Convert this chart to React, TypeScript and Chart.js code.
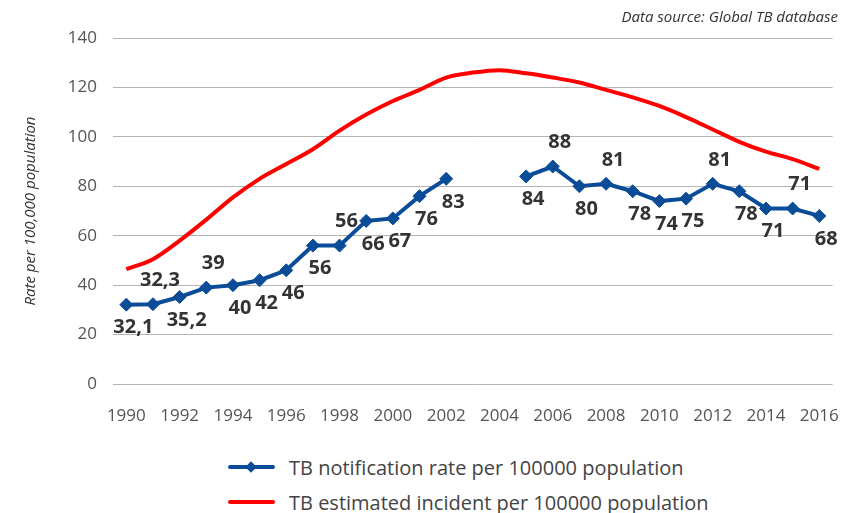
import { useEffect, useRef } from "react";
import { Chart, registerables } from "chart.js";

Chart.register(...registerables);

const years = [
  "1990", "1991", "1992", "1993", "1994", "1995", "1996", "1997", "1998", "1999",
  "2000", "2001", "2002", "2003", "2004", "2005", "2006", "2007", "2008", "2009",
  "2010", "2011", "2012", "2013", "2014", "2015", "2016",
];

const notificationRate: (number | null)[] = [
  32.1, 32.3, 35.2, 39, 40, 42, 46, 56, 56, 66, 67, 76, 83, null, null,
  84, 88, 80, 81, 78, 74, 75, 81, 78, 71, 71, 68,
];

const estimatedIncidence = [
  46.5, 50.5, 58, 66.5, 75.5, 83, 89, 95, 102.5, 109, 114.5, 119, 124, 126, 127,
  125.7, 124, 122, 119, 116, 112.5, 108, 103, 98, 94, 91, 87,
];

const yTicks = [0, 20, 40, 60, 80, 100, 120, 140];

const labelSide = [
  "below", "above", "below", "above", "below", "below", "below", "below", "above", "below",
  "below", "below", "below", "", "", "below", "above", "below", "above", "below",
  "below", "below", "above", "below", "below", "above", "below",
];

const FONT = "'Open Sans', sans-serif";
const BLUE = "#0a4c97";
const RED = "#ff0000";

const fmt = (v: number) => String(v).replace(".", ",");

const valueLabels = {
  id: "valueLabels",
  afterDatasetsDraw(chart: any) {
    const meta = chart.getDatasetMeta(0);
    const ctx = chart.ctx;
    ctx.save();
    ctx.font = `bold 20px ${FONT}`;
    ctx.fillStyle = "#333333";
    ctx.textAlign = "center";
    ctx.textBaseline = "middle";
    meta.data.forEach((pt: any, i: number) => {
      const v = notificationRate[i];
      if (v == null) return;
      const dy = labelSide[i] === "above" ? -24 : 23;
      ctx.fillText(fmt(v), pt.x + 7, pt.y + dy);
    });
    ctx.restore();
  },
};

export default function App() {
  const ref = useRef<HTMLCanvasElement | null>(null);

  useEffect(() => {
    document.body.style.margin = "0";
    if (!ref.current) return;
    const chart = new Chart(ref.current, {
      type: "line",
      data: {
        labels: years,
        datasets: [
          {
            label: "TB notification rate per 100000 population",
            data: notificationRate,
            borderColor: BLUE,
            backgroundColor: BLUE,
            borderWidth: 4,
            pointStyle: "rectRot",
            pointRadius: 6.5,
            pointBorderWidth: 1,
            pointBackgroundColor: BLUE,
            pointBorderColor: BLUE,
            spanGaps: false,
            tension: 0,
          },
          {
            label: "TB estimated incident per 100000 population",
            data: estimatedIncidence,
            borderColor: RED,
            backgroundColor: RED,
            borderWidth: 4,
            pointRadius: 0,
            tension: 0.4,
            cubicInterpolationMode: "monotone",
          },
        ],
      },
      options: {
        responsive: false,
        animation: false,
        layout: { padding: { top: 38, right: 14, bottom: 0, left: 0 } },
        plugins: {
          legend: { display: false },
          tooltip: { enabled: false },
        },
        scales: {
          x: {
            type: "category",
            offset: true,
            grid: { display: false },
            border: { display: false },
            ticks: {
              autoSkip: false,
              maxRotation: 0,
              padding: 14,
              color: "#555555",
              font: { family: FONT, size: 17 },
              callback: (_v: any, idx: number) => (idx % 2 === 0 ? years[idx] : ""),
            },
            afterFit: (s: any) => {
              s.height = 46;
            },
          },
          y: {
            min: 0,
            max: 140,
            border: { display: false },
            grid: { color: "#b4b4b4", lineWidth: 1, drawTicks: false },
            afterBuildTicks: (s: any) => {
              s.ticks = yTicks.map((v) => ({ value: v }));
            },
            ticks: {
              padding: 16,
              color: "#555555",
              font: { family: FONT, size: 17 },
            },
            title: {
              display: true,
              text: "Rate per 100,000 population",
              color: "#333333",
              font: { family: FONT, size: 15, style: "italic" },
              padding: { top: 22, bottom: 0 },
            },
            afterFit: (s: any) => {
              s.width = 113;
            },
          },
        },
      },
      plugins: [valueLabels],
    } as any);
    return () => chart.destroy();
  }, []);

  const legendRow = (top: number, color: string, text: string, marker: boolean) => (
    <div
      style={{
        position: "absolute",
        left: 228,
        top: top - 14,
        height: 28,
        display: "flex",
        alignItems: "center",
        fontFamily: FONT,
        fontSize: 20,
        color: "#444444",
        whiteSpace: "nowrap",
      }}
    >
      <div style={{ position: "relative", width: 47, height: 28, marginRight: 14 }}>
        <div
          style={{
            position: "absolute",
            left: 0,
            top: 12,
            width: 47,
            height: 4,
            borderRadius: 2,
            background: color,
          }}
        />
        {marker && (
          <div
            style={{
              position: "absolute",
              left: 19,
              top: 10,
              width: 8,
              height: 8,
              background: color,
              transform: "rotate(45deg)",
            }}
          />
        )}
      </div>
      <span>{text}</span>
    </div>
  );

  return (
    <div style={{ position: "relative", width: 853, height: 513, background: "#ffffff" }}>
      <canvas ref={ref} width={853} height={430} style={{ display: "block" }} />
      <div
        style={{
          position: "absolute",
          right: 15,
          top: 6,
          fontFamily: FONT,
          fontStyle: "italic",
          fontSize: 15,
          color: "#333333",
        }}
      >
        Data source: Global TB database
      </div>
      {legendRow(467, BLUE, "TB notification rate per 100000 population", true)}
      {legendRow(502, RED, "TB estimated incident per 100000 population", false)}
    </div>
  );
}
